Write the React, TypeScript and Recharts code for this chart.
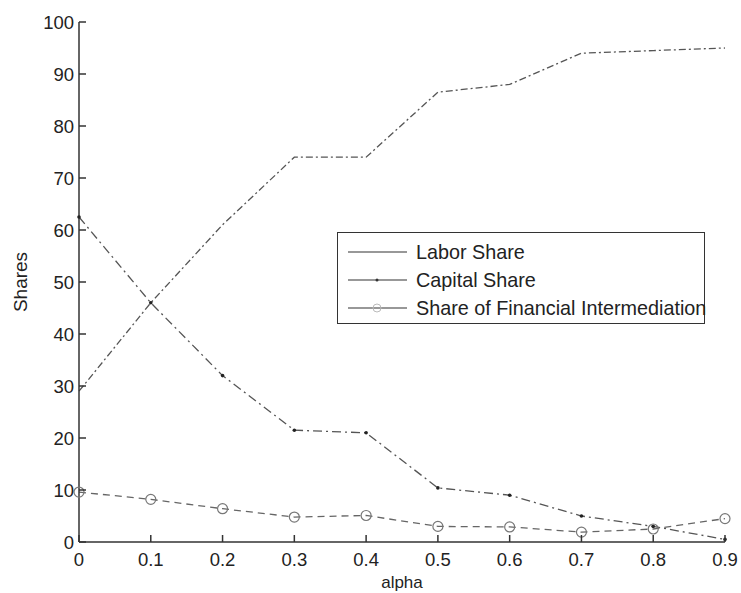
import React from "react";
import { LineChart, Line, XAxis, YAxis } from "recharts";

const alphas = [0, 0.1, 0.2, 0.3, 0.4, 0.5, 0.6, 0.7, 0.8, 0.9];
const laborShare = [29, 46, 61, 74, 74, 86.5, 88, 94, 94.5, 95];
const capitalShare = [62.5, 46, 32, 21.5, 21, 10.4, 9, 5, 3, 0.5];
const financialShare = [9.6, 8.2, 6.4, 4.8, 5.1, 3, 2.9, 1.9, 2.5, 4.5];

const xTicks = [0, 0.1, 0.2, 0.3, 0.4, 0.5, 0.6, 0.7, 0.8, 0.9];
const yTicks = [0, 10, 20, 30, 40, 50, 60, 70, 80, 90, 100];

const data = alphas.map((a, i) => ({
  alpha: a,
  labor: laborShare[i],
  capital: capitalShare[i],
  financial: financialShare[i],
}));

const FONT = "'Liberation Sans', Arial, sans-serif";
const TICK = 7;

const BottomTick = (props: any) => {
  const { x, y, payload } = props;
  return (
    <g>
      <line x1={x} y1={y} x2={x} y2={y - TICK} stroke="#333" strokeWidth={1.5} />
      <text x={x} y={y + 24} textAnchor="middle" fontSize={18.5} fill="#222" fontFamily={FONT}>
        {String(payload.value)}
      </text>
    </g>
  );
};
const TopTick = (props: any) => {
  const { x, y } = props;
  return <line x1={x} y1={y} x2={x} y2={y + TICK} stroke="#333" strokeWidth={1.5} />;
};
const LeftTick = (props: any) => {
  const { x, y, payload } = props;
  return (
    <g>
      <line x1={x} y1={y} x2={x + TICK} y2={y} stroke="#333" strokeWidth={1.5} />
      <text x={x - 5} y={y + 7} textAnchor="end" fontSize={18.5} fill="#222" fontFamily={FONT}>
        {String(payload.value)}
      </text>
    </g>
  );
};
const RightTick = (props: any) => {
  const { x, y } = props;
  return <line x1={x} y1={y} x2={x - TICK} y2={y} stroke="#333" strokeWidth={1.5} />;
};

const legendItems = [
  { name: "Labor Share", marker: "none" },
  { name: "Capital Share", marker: "dot" },
  { name: "Share of Financial Intermediation", marker: "circle" },
];

const LegendBox = () => (
  <svg width={369} height={93} style={{ display: "block", overflow: "visible" }}>
    <rect x={0.5} y={0.5} width={367} height={91} fill="#fff" stroke="#333" strokeWidth={1} />
    {legendItems.map((it, i) => {
      const cy = 20 + i * 28;
      return (
        <g key={it.name}>
          <line x1={11} y1={cy} x2={70} y2={cy} stroke="#333" strokeWidth={1.2} />
          {it.marker === "dot" && <circle cx={40} cy={cy} r={1.5} fill="#333" />}
          {it.marker === "circle" && <circle cx={40} cy={cy} r={4} fill="none" stroke="#bbb" />}
          <text x={79} y={cy + 7} fontSize={19.8} fill="#222" fontFamily={FONT}>
            {it.name}
          </text>
        </g>
      );
    })}
  </svg>
);

const CapDot = (props: any) => {
  const { cx, cy } = props;
  return <circle cx={cx} cy={cy} r={1.8} fill="#222" />;
};
const FinDot = (props: any) => {
  const { cx, cy } = props;
  return <circle cx={cx} cy={cy} r={5} fill="none" stroke="#777" strokeWidth={1.2} />;
};

const YLabel = (props: any) => {
  const vb = props.viewBox || {};
  const cx = 20;
  const cy = (vb.y || 0) + (vb.height || 0) / 2;
  return (
    <text
      x={cx}
      y={cy}
      transform={`rotate(-90 ${cx} ${cy})`}
      textAnchor="middle"
      dominantBaseline="central"
      fontSize={19}
      fill="#222"
      fontFamily={FONT}
    >
      Shares
    </text>
  );
};

const XLabel = (props: any) => {
  const vb = props.viewBox || {};
  const cx = (vb.x || 0) + (vb.width || 0) / 2;
  return (
    <text x={cx} y={588} textAnchor="middle" fontSize={17} fill="#222" fontFamily={FONT}>
      alpha
    </text>
  );
};

export default function App() {
  return (
    <div style={{ position: "absolute", left: 0, top: 0, width: 741, height: 593, background: "#fff" }}>
      <LineChart
        width={741}
        height={593}
        data={data}
        margin={{ top: 22, right: 16, bottom: 0, left: 0 }}
        style={{ overflow: "visible" }}
      >
        <XAxis
          dataKey="alpha"
          type="number"
          domain={[0, 0.9]}
          ticks={xTicks}
          interval={0}
          height={51}
          tickSize={0}
          tickMargin={0}
          tickLine={false}
          axisLine={{ stroke: "#333", strokeWidth: 1.5 }}
          tick={BottomTick}
          label={<XLabel />}
        />
        <XAxis
          xAxisId="top"
          orientation="top"
          dataKey="alpha"
          type="number"
          domain={[0, 0.9]}
          ticks={xTicks}
          interval={0}
          height={0}
          tickSize={0}
          tickMargin={0}
          tickLine={false}
          axisLine={{ stroke: "#333", strokeWidth: 1.5 }}
          tick={TopTick}
        />
        <YAxis
          type="number"
          domain={[0, 100]}
          ticks={yTicks}
          interval={0}
          width={79}
          tickSize={0}
          tickMargin={0}
          tickLine={false}
          axisLine={{ stroke: "#333", strokeWidth: 1.5 }}
          tick={LeftTick}
          label={<YLabel />}
        />
        <YAxis
          yAxisId="right"
          orientation="right"
          type="number"
          domain={[0, 100]}
          ticks={yTicks}
          interval={0}
          width={0}
          tickSize={0}
          tickMargin={0}
          tickLine={false}
          axisLine={{ stroke: "#333", strokeWidth: 1.5 }}
          tick={RightTick}
        />
        <Line
          dataKey="labor"
          stroke="#555"
          strokeWidth={1.3}
          strokeDasharray="7 3 2 3"
          dot={false}
          isAnimationActive={false}
        />
        <Line
          dataKey="capital"
          stroke="#555"
          strokeWidth={1.3}
          strokeDasharray="9 4 2 4"
          dot={CapDot}
          isAnimationActive={false}
        />
        <Line
          dataKey="financial"
          stroke="#666"
          strokeWidth={1.3}
          strokeDasharray="7 5"
          dot={FinDot}
          isAnimationActive={false}
        />
      </LineChart>
      <div style={{ position: "absolute", left: 337, top: 232 }}>
        <LegendBox />
      </div>
    </div>
  );
}
